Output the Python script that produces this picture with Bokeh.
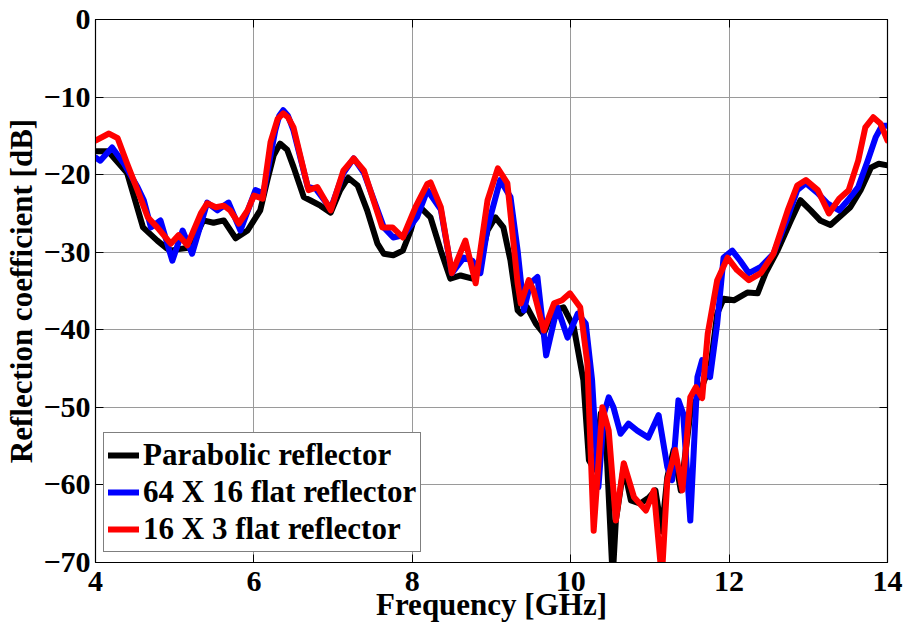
from bokeh.plotting import figure
from bokeh.models import Legend, LegendItem, LinearAxis, Range1d, FixedTicker
from bokeh.embed import file_html
from bokeh.resources import INLINE

# ---- data ----
freq_parabolic = [4.0, 4.16, 4.4, 4.6, 4.78, 4.9, 4.95, 5.05, 5.2, 5.36, 5.49, 5.62, 5.77, 5.92, 6.0, 6.08, 6.17, 6.25,
                  6.33, 6.42, 6.5, 6.63, 6.71, 6.84, 6.97, 7.09, 7.19, 7.31, 7.43, 7.56, 7.64, 7.76, 7.88, 7.98, 8.07,
                  8.23, 8.36, 8.48, 8.61, 8.76, 8.86, 8.95, 9.05, 9.15, 9.24, 9.33, 9.37, 9.45, 9.56, 9.66, 9.78,
                  9.91, 10.04, 10.16, 10.23, 10.3, 10.38, 10.45, 10.53, 10.57, 10.67, 10.76, 10.88, 10.99, 11.07,
                  11.15, 11.22, 11.3, 11.39, 11.51, 11.64, 11.77, 11.85, 11.93, 12.06, 12.23, 12.36, 12.46, 12.61,
                  12.78, 12.9, 13.03, 13.15, 13.28, 13.41, 13.53, 13.66, 13.79, 13.89, 14.0]
s11_parabolic = [-17.0, -17.0, -19.8, -26.8, -28.5, -29.5, -29.8, -29.6, -29.4, -25.9, -26.2, -25.9, -28.2, -27.2, -25.9, -24.6, -20.7, -17.5,
                 -16.0, -16.8, -19.0, -22.9, -23.3, -24.0, -24.9, -22.0, -20.4, -21.4, -24.6, -28.9, -30.2, -30.4, -29.8, -27.2, -23.9,
                 -25.5, -29.8, -33.4, -33.0, -33.4, -31.1, -27.2, -25.5, -26.8, -31.1, -37.5, -37.9, -37.1, -39.2, -40.5, -37.5,
                 -37.1, -39.7, -46.5, -56.8, -58.0, -50.8, -55.0, -72.0, -64.6, -57.7, -62.0, -62.4, -61.6, -60.7,
                 -66.0, -59.0, -55.5, -60.7, -50.8, -47.8, -44.3, -37.9, -36.0, -36.2, -35.2, -35.3, -32.7, -29.8,
                 -25.9, -23.3, -24.6, -25.9, -26.5, -25.3, -24.2, -22.0, -19.1, -18.6, -18.8]

freq_flat64 = [4.0, 4.06, 4.21, 4.36, 4.53, 4.61, 4.7, 4.82, 4.97, 5.1, 5.22, 5.41, 5.54, 5.68, 5.83, 6.02, 6.12,
               6.27, 6.32, 6.37, 6.43, 6.5, 6.68, 6.78, 6.97, 7.13, 7.26, 7.39, 7.64, 7.76, 7.89, 8.06, 8.19, 8.36,
               8.5, 8.65, 8.76, 8.86, 8.95, 9.11, 9.24, 9.33, 9.41, 9.49, 9.58, 9.69, 9.83, 9.96, 10.09, 10.19,
               10.27, 10.35, 10.42, 10.48, 10.54, 10.63, 10.73, 10.84, 10.98, 11.11, 11.22, 11.28, 11.36, 11.42,
               11.51, 11.6, 11.66, 11.76, 11.85, 11.93, 12.04, 12.14, 12.25, 12.4, 12.56, 12.74, 12.86, 12.97,
               13.12, 13.24, 13.39, 13.5, 13.63, 13.75, 13.85, 13.93, 14.0]
s11_flat64 = [-17.8, -18.2, -16.5, -18.6, -21.6, -23.3, -26.8, -25.9, -31.1, -27.2, -30.2, -23.6, -24.6, -23.6, -27.2, -22.0, -22.4,
              -14.3, -12.4, -11.7, -12.4, -14.3, -21.6, -21.8, -24.4, -19.8, -17.9, -19.8, -26.8, -28.1, -27.8, -25.5, -22.0, -24.5,
              -32.7, -30.7, -31.1, -32.7, -26.8, -20.7, -22.9, -29.8, -37.5, -34.0, -33.2, -43.3, -37.1, -41.0, -37.9, -39.2,
              -46.5, -60.3, -50.8, -48.7, -50.0, -53.4, -52.1, -53.0, -53.9, -51.0, -57.7, -59.4, -49.1, -50.8,
              -64.6, -46.1, -43.9, -46.1, -39.2, -30.7, -29.8, -31.1, -32.7, -31.9, -30.2, -25.5, -22.0, -21.1,
              -22.4, -23.7, -24.6, -23.3, -21.6, -18.2, -15.2, -13.7, -13.7]

freq_flat16 = [4.0, 4.17, 4.28, 4.4, 4.53, 4.66, 4.78, 4.95, 5.05, 5.16, 5.33, 5.41, 5.52, 5.62, 5.7, 5.81, 5.92, 6.0,
               6.11, 6.21, 6.3, 6.37, 6.43, 6.5, 6.69, 6.8, 6.97, 7.13, 7.26, 7.39, 7.62, 7.75, 7.88, 8.04, 8.19, 8.23, 8.36,
               8.5, 8.67, 8.8, 8.95, 9.08, 9.2, 9.33, 9.37, 9.47, 9.53, 9.66, 9.79, 9.89, 9.99, 10.12, 10.21,
               10.29, 10.4, 10.48, 10.57, 10.67, 10.8, 10.95, 11.05, 11.15, 11.22, 11.32, 11.41, 11.51, 11.58,
               11.66, 11.73, 11.85, 11.98, 12.1, 12.25, 12.4, 12.56, 12.74, 12.86, 12.97, 13.12, 13.26, 13.39,
               13.51, 13.63, 13.72, 13.82, 13.91, 14.0]
s11_flat16 = [-15.6, -14.7, -15.3, -18.6, -22.0, -25.5, -26.8, -28.9, -27.8, -29.1, -25.0, -23.7, -24.2, -24.0, -24.6, -26.3, -24.6, -22.7,
              -23.1, -15.8, -12.8, -12.1, -12.6, -13.9, -22.0, -21.6, -24.6, -19.5, -17.9, -19.5, -26.8, -26.8, -28.1, -24.2, -21.2, -21.0, -24.2,
              -32.7, -28.5, -34.0, -23.3, -19.2, -21.1, -34.0, -36.6, -33.6, -34.9, -40.1, -36.6, -36.2, -35.3, -37.1, -44.3,
              -65.9, -50.0, -53.0, -64.6, -57.2, -61.6, -63.3, -60.7, -72.0, -59.4, -55.5, -60.7, -48.7, -47.4,
              -48.8, -40.5, -33.6, -30.7, -32.3, -33.6, -32.7, -30.2, -24.6, -21.4, -20.7, -22.0, -25.0, -23.1,
              -22.0, -18.2, -13.9, -12.6, -13.4, -15.6]

series_labels = ["Parabolic reflector", "64 X 16 flat reflector", "16 X 3 flat reflector"]
series_colors = ["#000000", "#0000ff", "#ff0000"]
x_ticks = [4, 6, 8, 10, 12, 14]
y_ticks = [0, -10, -20, -30, -40, -50, -60, -70]

FONT = "Liberation Serif"

p = figure(width=906, height=631, output_backend="svg", toolbar_location=None,
           x_range=Range1d(4, 14), y_range=Range1d(-70, 0),
           min_border_left=95, min_border_right=19, min_border_top=19, min_border_bottom=69,
           x_axis_label="Frequency [GHz]", y_axis_label="Reflection coefficient [dB]")
p.background_fill_color = "white"
p.border_fill_color = "white"
p.outline_line_color = "black"
p.outline_line_width = 1.2

for ax in (p.xaxis[0], p.yaxis[0]):
    ax.major_label_text_font = FONT
    ax.major_label_text_font_style = "bold"
    ax.major_label_text_font_size = "30px"
    ax.axis_label_text_font = FONT
    ax.axis_label_text_font_style = "bold"
    ax.axis_label_text_font_size = "31px"
    ax.major_tick_in = 8
    ax.major_tick_out = 0
    ax.minor_tick_in = 0
    ax.minor_tick_out = 0
    ax.axis_line_color = "black"
    ax.major_tick_line_color = "black"
    ax.major_label_text_color = "black"
    ax.axis_label_text_color = "black"
p.xaxis[0].ticker = FixedTicker(ticks=x_ticks)
p.yaxis[0].ticker = FixedTicker(ticks=y_ticks)
p.xaxis[0].major_label_standoff = 9
p.xaxis[0].axis_label_standoff = -7
p.yaxis[0].major_label_standoff = 5
p.yaxis[0].axis_label_standoff = 1

for side in ("above", "right"):
    ticks = x_ticks if side == "above" else y_ticks
    ax = LinearAxis(ticker=FixedTicker(ticks=ticks),
                    major_label_overrides={t: "" for t in ticks},
                    major_tick_in=8, major_tick_out=0,
                    minor_tick_in=0, minor_tick_out=0, major_label_standoff=0,
                    axis_line_color="black", major_tick_line_color="black")
    p.add_layout(ax, side)

p.xgrid.ticker = FixedTicker(ticks=x_ticks)
p.ygrid.ticker = FixedTicker(ticks=y_ticks)
p.grid.grid_line_color = "#9a9a9a"
p.grid.grid_line_width = 1

data = [(freq_parabolic, s11_parabolic), (freq_flat64, s11_flat64), (freq_flat16, s11_flat16)]
renderers = []
for (fx, fy), c in zip(data, series_colors):
    r = p.line(fx, fy, line_color=c, line_width=6, line_join="round", line_cap="round")
    renderers.append(r)

legend = Legend(items=[LegendItem(label=lab, renderers=[r]) for lab, r in zip(series_labels, renderers)],
                location=(8, 10), border_line_color="black", border_line_width=1,
                background_fill_color="white", background_fill_alpha=1.0,
                label_text_font=FONT, label_text_font_style="bold", label_text_font_size="31px",
                label_text_color="black",
                glyph_width=31, glyph_height=20, label_standoff=4, spacing=1, padding=4, margin=0)
p.add_layout(legend, "center")

open("out.html", "w").write(file_html(p, INLINE))
